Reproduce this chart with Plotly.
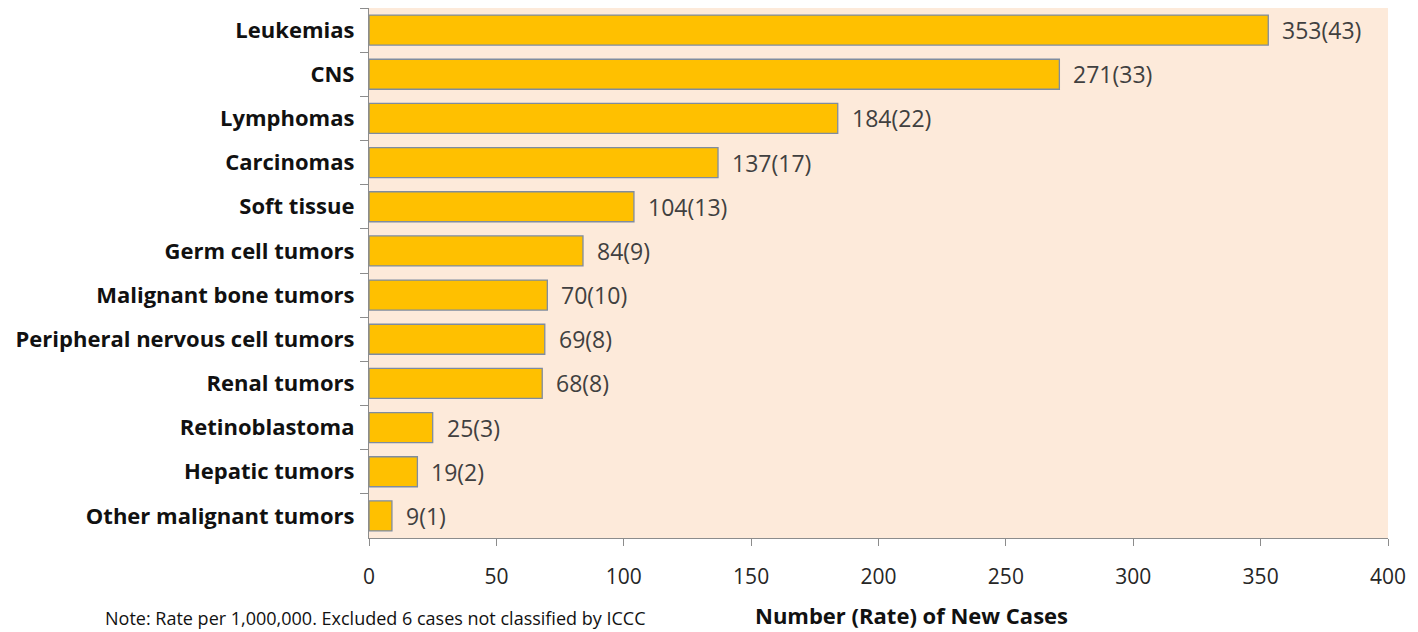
import plotly.graph_objects as go

categories = ["Leukemias", "CNS", "Lymphomas", "Carcinomas", "Soft tissue",
              "Germ cell tumors", "Malignant bone tumors",
              "Peripheral nervous cell tumors", "Renal tumors",
              "Retinoblastoma", "Hepatic tumors", "Other malignant tumors"]
counts = [353, 271, 184, 137, 104, 84, 70, 69, 68, 25, 19, 9]
rates = [43, 33, 22, 17, 13, 9, 10, 8, 8, 3, 2, 1]
x_ticks = [0, 50, 100, 150, 200, 250, 300, 350, 400]

labels = [f"{c}({r})" for c, r in zip(counts, rates)]

FONT = "Open Sans, sans-serif"
# page body has an 8px default margin; figure sized to fit the window
W, H = 1410, 624
ML, MR, MT, MB = 361, 30, 0, 94
PW, PH = W - ML - MR, H - MT - MB

fig = go.Figure()
fig.add_trace(go.Bar(
    y=categories, x=counts, orientation="h",
    marker=dict(color="#FFC000", line=dict(color="#7F8C9F", width=1.3)),
    hoverinfo="skip",
))
for cat, cnt, lab in zip(categories, counts, labels):
    fig.add_annotation(
        x=cnt, y=cat, text=lab, xref="x", yref="y",
        xanchor="left", yanchor="middle", xshift=12, showarrow=False,
        font=dict(family=FONT, size=23, color="#404040"),
    )

fig.update_layout(
    width=W, height=H,
    margin=dict(l=ML, r=MR, t=MT, b=MB),
    paper_bgcolor="white", plot_bgcolor="#FDEADA",
    bargap=0.32, showlegend=False,
    font=dict(family=FONT, color="#1a1a1a"),
)
fig.update_yaxes(
    type="category", autorange="reversed",
    tickson="boundaries", ticks="outside", ticklen=8, tickcolor="#8c8c8c",
    showline=True, linecolor="#8c8c8c", linewidth=1.3,
    showgrid=False,
    tickfont=dict(family=FONT, size=22, color="#111111", weight="bold"),
    ticklabelstandoff=9,
)
fig.update_xaxes(
    range=[0, 400], tickvals=x_ticks, ticks="outside", ticklen=7,
    tickcolor="#8c8c8c", showline=True, linecolor="#8c8c8c", linewidth=1.3,
    showgrid=False, zeroline=False,
    tickfont=dict(family=FONT, size=21, color="#262626"),
    ticklabelstandoff=13,
)
fig.add_annotation(
    text="<b>Number (Rate) of New Cases</b>", xref="paper", yref="paper",
    x=(911 - 369) / PW, y=-(607 - PH) / PH,
    xanchor="center", yanchor="middle", showarrow=False,
    font=dict(family=FONT, size=22, color="#111111"),
)
fig.add_annotation(
    text="Note: Rate per 1,000,000. Excluded 6 cases not classified by ICCC",
    xref="paper", yref="paper",
    x=(103 - 369) / PW, y=-(610 - PH) / PH,
    xanchor="left", yanchor="middle", showarrow=False,
    font=dict(family=FONT, size=18, color="#111111"),
)

fig.write_html("out.html")
